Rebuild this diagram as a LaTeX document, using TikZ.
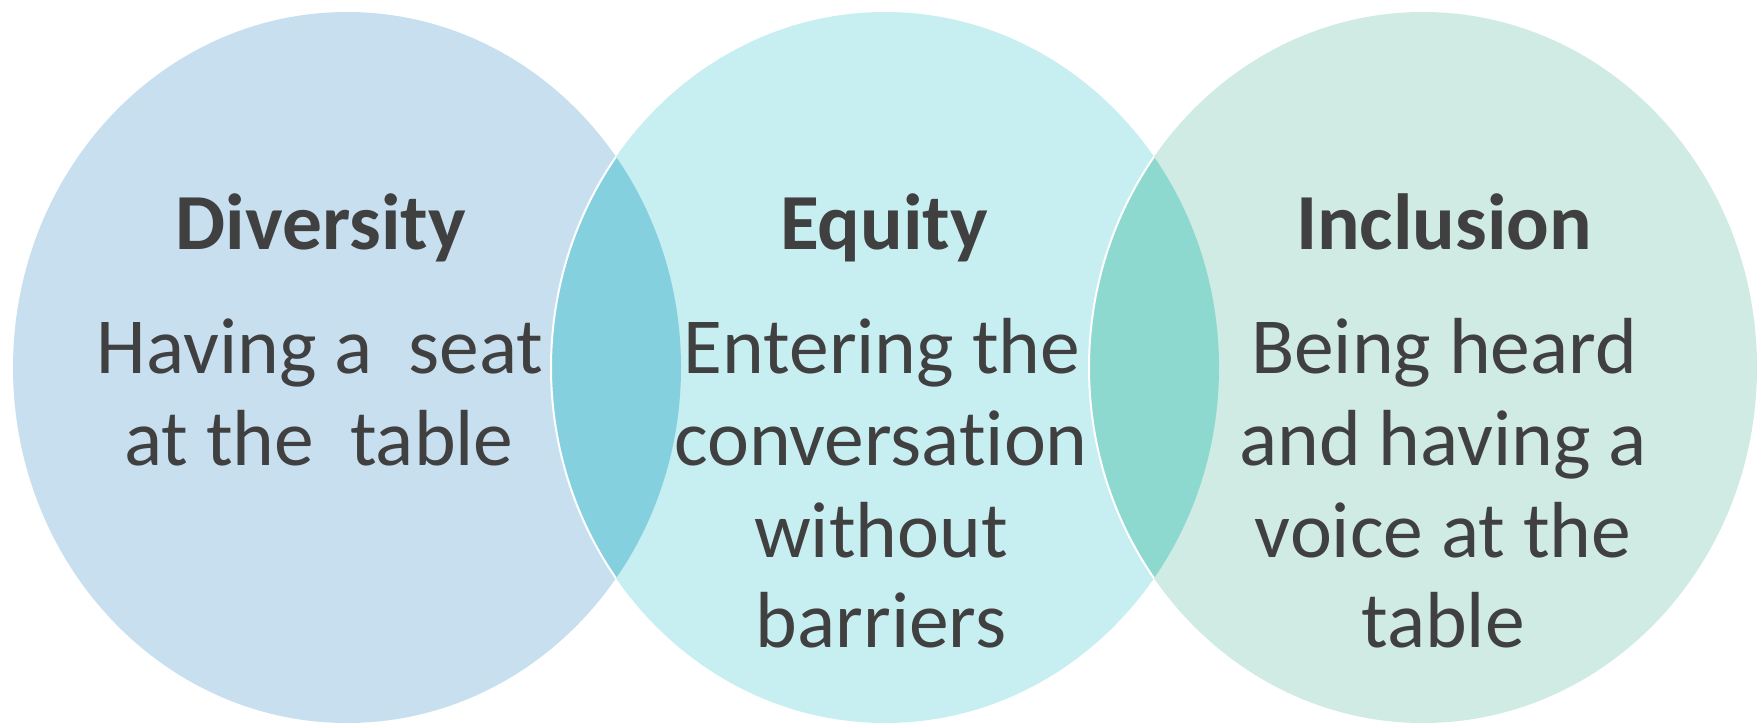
\documentclass[tikz,border=0pt]{standalone}
\usepackage{fontspec}
\setmainfont{Carlito}[Ligatures=CommonOff]
\definecolor{cDiv}{HTML}{C7DFEE}
\definecolor{cEq}{HTML}{C7EEF1}
\definecolor{cInc}{HTML}{D0EBE4}
\definecolor{cLensA}{HTML}{84D0DF}
\definecolor{cLensB}{HTML}{8DD9CF}
\definecolor{cTxt}{HTML}{404040}
\tikzset{
  ttl/.style={anchor=base, inner sep=0pt, text=cTxt, font=\fontsize{79.5}{92}\selectfont\bfseries},
  body/.style={anchor=base, inner sep=0pt, text=cTxt, font=\fontsize{79.5}{92}\selectfont},
  rim/.style={draw=white, line width=2pt}
}
\begin{document}
\begin{tikzpicture}[x=1pt,y=-1pt]
\useasboundingbox (0,0) rectangle (1758,725);
\def\EA{(347,367.5) ellipse [x radius=334pt, y radius=355.5pt]}
\def\EB{(885,367.5) ellipse [x radius=334pt, y radius=355.5pt]}
\def\EC{(1423,367.5) ellipse [x radius=334pt, y radius=355.5pt]}
% fills
\fill[cDiv] \EA;
\fill[cEq] \EB;
\fill[cInc] \EC;
% lenses
\begin{scope}
  \clip \EA;
  \fill[cLensA] \EB;
\end{scope}
\begin{scope}
  \clip \EB;
  \fill[cLensB] \EC;
\end{scope}
% white rims
\begin{scope}
  \clip \EA;
  \draw[rim] \EB;
\end{scope}
\begin{scope}
  \clip \EB;
  \draw[rim] \EC;
\end{scope}
% texts
\node[ttl] (t1) at (321,249) {Diversity};
\node[body] (d1) at (320,373) {Having a\ \ seat};
\node[body] (d2) at (319,465) {at the\ \ table};
\node[ttl] (t2) at (884,249) {Equity};
\node[body] (e1) at (882,373) {Entering the};
\node[body] (e2) at (881,465) {conversation};
\node[body] (e3) at (881,557) {without};
\node[body] (e4) at (881,647) {barriers};
\node[ttl] (t3) at (1444,249) {Inclusion};
\node[body] (i1) at (1444,373) {Being heard};
\node[body] (i2) at (1443,465) {and having a};
\node[body] (i3) at (1443,557) {voice at the};
\node[body] (i4) at (1443,647) {table};
\end{tikzpicture}
\end{document}
